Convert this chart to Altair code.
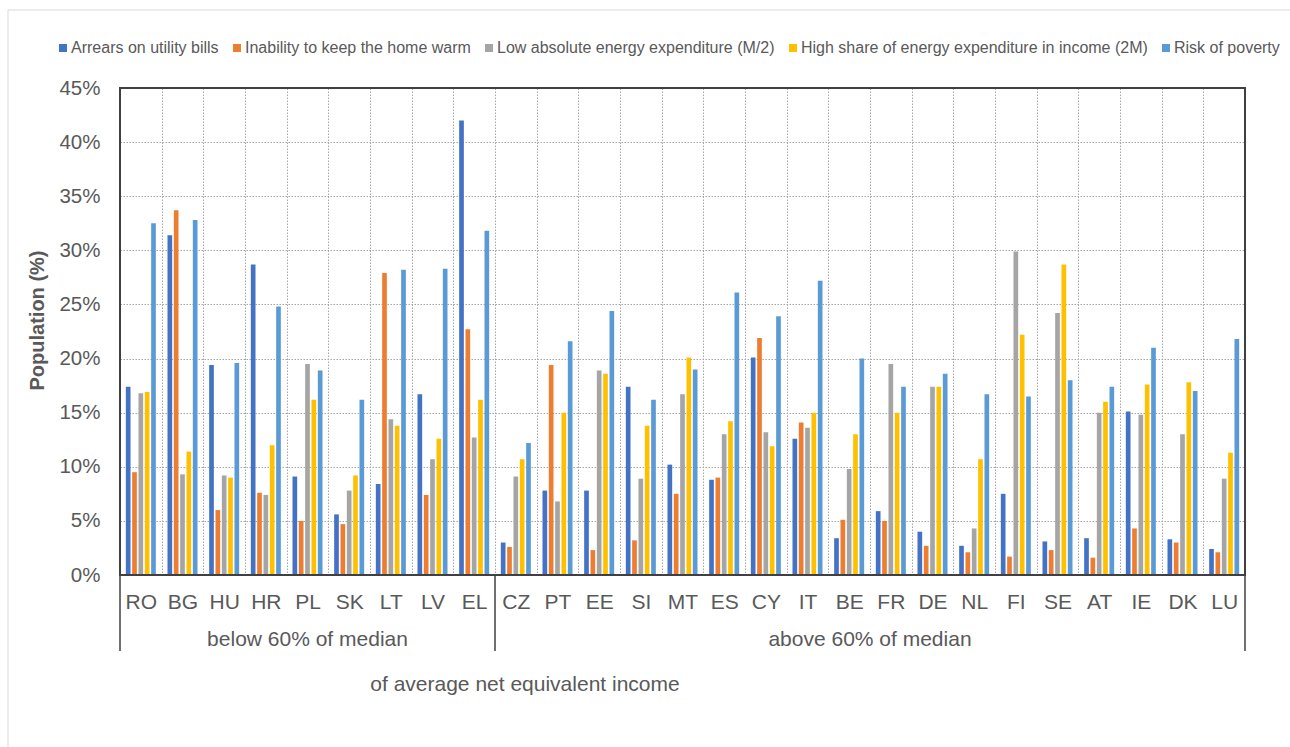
import altair as alt
import pandas as pd

# Countries, grouped by net equivalent income relative to the median
countries = ["RO", "BG", "HU", "HR", "PL", "SK", "LT", "LV", "EL",
             "CZ", "PT", "EE", "SI", "MT", "ES", "CY", "IT", "BE", "FR",
             "DE", "NL", "FI", "SE", "AT", "IE", "DK", "LU"]

series = ["Arrears on utility bills",
          "Inability to keep the home warm",
          "Low absolute energy expenditure (M/2)",
          "High share of energy expenditure in income (2M)",
          "Risk of poverty"]
colors = ["#4472C4", "#ED7D31", "#A5A5A5", "#FFC000", "#5B9BD5"]

# Share of population (%) per indicator, in country order
arrears = [17.4, 31.4, 19.4, 28.7, 9.1, 5.6, 8.4, 16.7, 42.0,
           3.0, 7.8, 7.8, 17.4, 10.2, 8.8, 20.1, 12.6, 3.4, 5.9,
           4.0, 2.7, 7.5, 3.1, 3.4, 15.1, 3.3, 2.4]
home_warm = [9.5, 33.7, 6.0, 7.6, 5.0, 4.7, 27.9, 7.4, 22.7,
             2.6, 19.4, 2.3, 3.2, 7.5, 9.0, 21.9, 14.1, 5.1, 5.0,
             2.7, 2.1, 1.7, 2.3, 1.6, 4.3, 3.0, 2.1]
low_expenditure = [16.8, 9.3, 9.2, 7.4, 19.5, 7.8, 14.4, 10.7, 12.7,
                   9.1, 6.8, 18.9, 8.9, 16.7, 13.0, 13.2, 13.6, 9.8, 19.5,
                   17.4, 4.3, 29.9, 24.2, 15.0, 14.8, 13.0, 8.9]
high_share = [16.9, 11.4, 9.0, 12.0, 16.2, 9.2, 13.8, 12.6, 16.2,
              10.7, 15.0, 18.6, 13.8, 20.1, 14.2, 11.9, 15.0, 13.0, 15.0,
              17.4, 10.7, 22.2, 28.7, 16.0, 17.6, 17.8, 11.3]
poverty_risk = [32.5, 32.8, 19.6, 24.8, 18.9, 16.2, 28.2, 28.3, 31.8,
                12.2, 21.6, 24.4, 16.2, 19.0, 26.1, 23.9, 27.2, 20.0, 17.4,
                18.6, 16.7, 16.5, 18.0, 17.4, 21.0, 17.0, 21.8]

y_ticks = [0, 5, 10, 15, 20, 25, 30, 35, 40, 45]

rows = []
for name, values in zip(series, [arrears, home_warm, low_expenditure,
                                 high_share, poverty_risk]):
    for c, v in zip(countries, values):
        rows.append({"country": c, "indicator": name, "value": v})
df = pd.DataFrame(rows)

TEXT = "#595959"
LINE = "#404040"
GRID = "#a6a6a6"
FONT = "Liberation Sans"
W, H = 1125, 487

x_scale = alt.Scale(domain=countries, paddingInner=0, paddingOuter=0)
# one axis definition shared by every layer that uses the country scale
x_axis = alt.Axis(labelAngle=0, labelFontSize=21, labelColor=TEXT,
                  labelBaseline="alphabetic", labelPadding=33,
                  ticks=False, domain=False, grid=True,
                  tickBand="extent", gridColor=GRID,
                  gridDash=[1.5, 1.5], gridWidth=1)


def country_x(field, band):
    return alt.X(field, sort=countries, scale=x_scale, title=None,
                 axis=x_axis, bandPosition=band)


bars = alt.Chart(df).mark_bar().encode(
    x=alt.X("country:N", sort=countries, scale=x_scale, title=None, axis=x_axis),
    xOffset=alt.XOffset("indicator:N", sort=series,
                        scale=alt.Scale(paddingInner=0.26, paddingOuter=0.92)),
    y=alt.Y("value:Q", scale=alt.Scale(domain=[0, 45], nice=False),
            title="Population (%)",
            axis=alt.Axis(values=y_ticks, labelExpr="datum.value + '%'",
                          labelFontSize=20.5, labelColor=TEXT, labelPadding=20,
                          ticks=False, domain=False, grid=True,
                          gridColor=GRID, gridDash=[1.5, 1.5], gridWidth=1,
                          titleFontSize=20, titleFontWeight="bold",
                          titleColor=TEXT, titleX=-73, titleY=232)),
    color=alt.Color("indicator:N", sort=series,
                    scale=alt.Scale(domain=series, range=colors),
                    legend=alt.Legend(title=None, orient="none",
                                      direction="horizontal",
                                      legendX=-65, legendY=-48,
                                      symbolType="square", symbolSize=64,
                                      symbolStrokeWidth=0, labelOffset=0,
                                      columnPadding=10, labelFontSize=16,
                                      labelColor=TEXT, labelLimit=500,
                                      padding=0)),
)

# dark frame around the plot area
frame = alt.Chart(pd.DataFrame({"k": [0]})).mark_rect(
    fillOpacity=0, stroke=LINE, strokeWidth=2
).encode(x=alt.value(0), x2=alt.value(W), y=alt.value(0), y2=alt.value(H))

# separators of the category table under the axis
sep_left = alt.Chart(pd.DataFrame({"anchor": ["RO", "CZ"]})).mark_rule(
    color=LINE, strokeWidth=1.5
).encode(x=country_x("anchor:N", 0), y=alt.value(H), y2=alt.value(H + 76))
sep_right = alt.Chart(pd.DataFrame({"anchor": ["LU"]})).mark_rule(
    color=LINE, strokeWidth=1.5
).encode(x=country_x("anchor:N", 1), y=alt.value(H), y2=alt.value(H + 76))

group_low = alt.Chart(pd.DataFrame({"anchor": ["PL"],
                                    "label": ["below 60% of median"]})).mark_text(
    fontSize=21, color=TEXT, baseline="alphabetic", align="center"
).encode(x=country_x("anchor:N", 0.5), y=alt.value(H + 71), text="label:N")
group_high = alt.Chart(pd.DataFrame({"anchor": ["FR"],
                                     "label": ["above 60% of median"]})).mark_text(
    fontSize=21, color=TEXT, baseline="alphabetic", align="center"
).encode(x=country_x("anchor:N", 0), y=alt.value(H + 71), text="label:N")

note = alt.Chart(pd.DataFrame({"label": ["of average net equivalent income"]})).mark_text(
    fontSize=21, color=TEXT, baseline="alphabetic", align="center"
).encode(x=alt.value(405), y=alt.value(H + 116), text="label:N")

# light outer border of the whole figure
outer = alt.Chart(pd.DataFrame({"k": [0]})).mark_rect(
    fillOpacity=0, stroke="#d9d9d9", strokeWidth=1
).encode(x=alt.value(-112), x2=alt.value(W + 200),
         y=alt.value(-78), y2=alt.value(H + 250))

chart = alt.layer(
    bars, frame, sep_left, sep_right, group_low, group_high, note, outer
).properties(
    width=W, height=H,
    autosize=alt.AutoSizeParams(type="none"),
    padding={"left": 120, "top": 88, "right": 45, "bottom": 172},
).configure(
    font=FONT, background="white"
).configure_view(stroke="transparent")

chart.save("out.html", embed_options={"renderer": "svg", "actions": False})
